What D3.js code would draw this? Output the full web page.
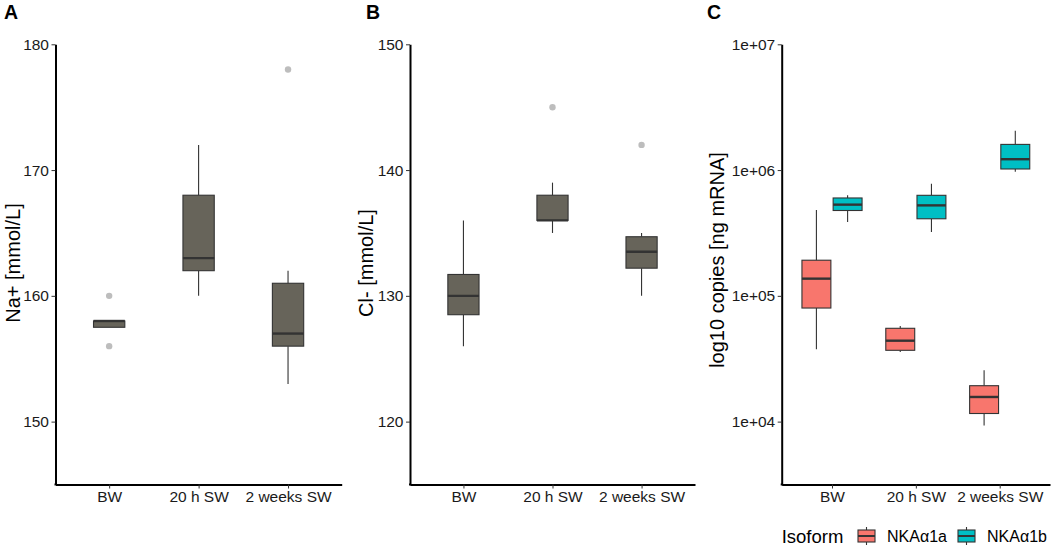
<!DOCTYPE html>
<html>
<head>
<meta charset="utf-8">
<script src="https://cdn.jsdelivr.net/npm/d3@7"></script>
<style>
  body { margin: 0; background: #fff; }
  text { font-family: "Liberation Sans", Arial, sans-serif; }
</style>
</head>
<body>
<script>
// groups on the x axis
var groups = ['BW', '20 h SW', '2 weeks SW'];

// box stats per group: [lower whisker, q1, median, q3, upper whisker]
var naStats = [[157.5, 157.5, 158, 158, 158], [160, 162, 163, 168, 172], [153, 156, 157, 161, 162]];
var naOutliers = [[160, 156], [], [178]];

var clStats = [[126, 128.5, 130, 131.7, 136], [135, 136, 136, 138, 139], [130, 132.2, 133.5, 134.7, 135]];
var clOutliers = [[], [145], [142]];

var isoforms = ['NKAα1a', 'NKAα1b'];
var isoColors = ['#F8766D', '#00BFC4'];
var a1aStats = [[37600, 80000, 137000, 192000, 482000], [35700, 36900, 44000, 55200, 57700], [9300, 11600, 15700, 19300, 25600]];
var a1bStats = [[386000, 477000, 531000, 600000, 630000], [322000, 410000, 524000, 630000, 780000], [970000, 1020000, 1220000, 1600000, 2050000]];

var naTicks = [150, 160, 170, 180];
var clTicks = [120, 130, 140, 150];
var logTicks = [1e4, 1e5, 1e6, 1e7];

var svg = d3.select('body').append('svg').attr('width', 1052).attr('height', 546);

var plotTop = 44.3, plotBottom = 484.5;
var boxStroke = '#333333';

var drawAxes = function(g, x, y, ticks, fmt) {
  var xAxis = g.append('g').attr('transform', 'translate(0,' + plotBottom + ')')
    .call(d3.axisBottom(x).tickSize(4).tickSizeOuter(0).tickPadding(2.5));
  var yAxis = g.append('g').attr('transform', 'translate(' + x.range()[0] + ',0)')
    .call(d3.axisLeft(y).tickValues(ticks).tickFormat(fmt).tickSize(4).tickSizeOuter(0).tickPadding(2.5));
  [xAxis, yAxis].forEach(function(a) {
    a.select('.domain').attr('stroke', '#000').attr('stroke-width', 2);
    a.selectAll('.tick line').attr('stroke', '#333').attr('stroke-width', 1);
    a.selectAll('.tick text').attr('fill', '#1a1a1a').style('font-size', '15.5px');
  });
  // close the corner between both axis lines
  g.append('line').attr('x1', x.range()[0] - 1).attr('x2', x.range()[0] + 1)
    .attr('y1', plotBottom).attr('y2', plotBottom).attr('stroke', '#000').attr('stroke-width', 2);
};

var drawBox = function(g, cx, w, s, y, fill) {
  g.append('line').attr('x1', cx).attr('x2', cx).attr('y1', y(s[4])).attr('y2', y(s[3]))
    .attr('stroke', boxStroke).attr('stroke-width', 1.1);
  g.append('line').attr('x1', cx).attr('x2', cx).attr('y1', y(s[1])).attr('y2', y(s[0]))
    .attr('stroke', boxStroke).attr('stroke-width', 1.1);
  g.append('rect').attr('x', cx - w / 2).attr('y', y(s[3])).attr('width', w)
    .attr('height', Math.max(y(s[1]) - y(s[3]), 0.5))
    .attr('fill', fill).attr('stroke', boxStroke).attr('stroke-width', 1.1);
  g.append('line').attr('x1', cx - w / 2).attr('x2', cx + w / 2).attr('y1', y(s[2])).attr('y2', y(s[2]))
    .attr('stroke', boxStroke).attr('stroke-width', 2.4);
};

var panelLetter = function(txt, x) {
  svg.append('text').attr('x', x).attr('y', 18.5).attr('font-weight', 'bold')
    .style('font-size', '19.5px').attr('fill', '#000').text(txt);
};

var yTitle = function(txt, x, cy) {
  svg.append('text').attr('transform', 'translate(' + x + ',' + cy + ') rotate(-90)')
    .attr('text-anchor', 'middle').style('font-size', '20px').attr('fill', '#000').text(txt);
};

// plain grey panels (A and B)
var simplePanel = function(left, right, domain, ticks, stats, outliers, letter, letterX, title, titleX) {
  var g = svg.append('g');
  var x = d3.scalePoint().domain(groups).range([left, right]).padding(0.6);
  var y = d3.scaleLinear().domain(domain).range([plotBottom, plotTop]);
  var w = x.step() * 0.35;
  groups.forEach(function(grp, i) {
    drawBox(g, x(grp), w, stats[i], y, '#67645a');
    outliers[i].forEach(function(v) {
      g.append('circle').attr('cx', x(grp)).attr('cy', y(v)).attr('r', 3.2).attr('fill', '#bdbdbd');
    });
  });
  drawAxes(g, x, y, ticks, d3.format('d'));
  panelLetter(letter, letterX);
  yTitle(title, titleX, 263);
};

simplePanel(55.5, 341.7, [145, 180], naTicks, naStats, naOutliers, 'A', 4, 'Na+ [mmol/L]', 20);
simplePanel(410, 695, [115, 150], clTicks, clStats, clOutliers, 'B', 366, 'Cl- [mmol/L]', 373);

// panel C, log scale with two isoforms dodged
var gC = svg.append('g');
var xC = d3.scalePoint().domain(groups).range([781.7, 1050]).padding(0.6);
var yC = d3.scaleLog().domain([Math.pow(10, 3.5), 1e7]).range([plotBottom, plotTop]);
var wC = xC.step() * 0.345;
var dodge = xC.step() * 0.186;
var isoStats = [a1aStats, a1bStats];
groups.forEach(function(grp, i) {
  isoforms.forEach(function(iso, k) {
    drawBox(gC, xC(grp) + (k === 0 ? -dodge : dodge), wC, isoStats[k][i], yC, isoColors[k]);
  });
});
drawAxes(gC, xC, yC, logTicks, function(d) { return '1e+0' + Math.round(Math.log10(d)); });
panelLetter('C', 707);
yTitle('log10 copies [ng mRNA]', 724, 260);

// legend
var leg = svg.append('g').attr('transform', 'translate(0,536)');
leg.append('text').attr('x', 781.7).attr('y', 6.5).style('font-size', '18.5px').attr('fill', '#000').text('Isoform');
var keyX = [858, 958];
isoforms.forEach(function(iso, k) {
  var kx = keyX[k];
  leg.append('line').attr('x1', kx + 8.5).attr('x2', kx + 8.5).attr('y1', -9).attr('y2', 9)
    .attr('stroke', boxStroke).attr('stroke-width', 1.1);
  leg.append('rect').attr('x', kx).attr('y', -6).attr('width', 17).attr('height', 12)
    .attr('fill', isoColors[k]).attr('stroke', boxStroke).attr('stroke-width', 1.1);
  leg.append('line').attr('x1', kx).attr('x2', kx + 17).attr('y1', 0).attr('y2', 0)
    .attr('stroke', boxStroke).attr('stroke-width', 2);
  leg.append('text').attr('x', kx + 29).attr('y', 6).style('font-size', '16px').attr('fill', '#000').text(iso);
});
</script>
</body>
</html>
